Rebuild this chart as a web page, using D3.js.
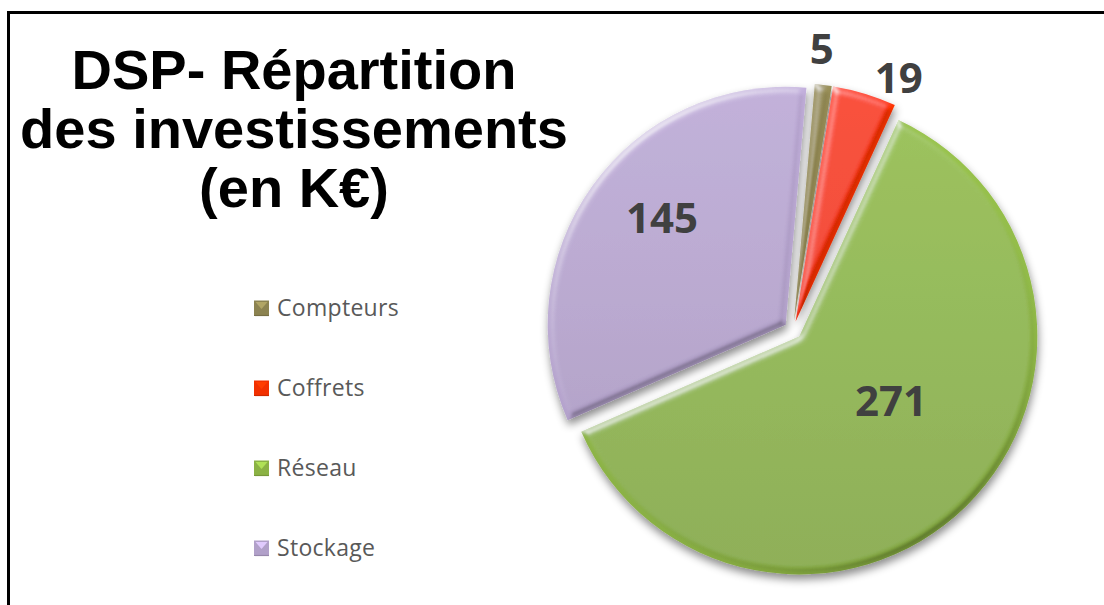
<!DOCTYPE html>
<html>
<head>
<meta charset="utf-8">
<script src="https://cdn.jsdelivr.net/npm/d3@7"></script>
<style>
  body { margin: 0; background: #fff; }
  svg { display: block; }
</style>
</head>
<body>
<div id="chart"></div>
<script>
// data
const categories = ["Compteurs", "Coffrets", "Réseau", "Stockage"];
const values = [5, 19, 271, 145];
const colors = ["#948a54", "#ff3300", "#93bc48", "#bba9d4"];
const titleLines = ["DSP- Répartition", "des investissements", "(en K€)"];

// layout
const W = 1104, H = 605;
const cx = 793, cy = 330, r = 238, explode = 9;
const startDeg = 5;
// label placement: radius factor + angle nudge (deg) relative to slice middle
const labelLayout = {
  "Compteurs": { f: 1.187, shift: -1.2 },
  "Coffrets":  { f: 1.149, shift: 5.9 },
  "Réseau":    { f: 0.508, shift: -9.6 },
  "Stockage":  { f: 0.724, shift: 4.8 }
};

const data = categories.map((c, i) => ({ name: c, value: values[i], color: colors[i] }));

const svg = d3.select("#chart")
  .append("svg")
    .attr("width", W)
    .attr("height", H);

const defs = svg.append("defs");

// bevel filter (light from top-left, shade bottom-right)
const bevel = defs.append("filter")
  .attr("id", "bevel")
  .attr("x", "-5%").attr("y", "-5%").attr("width", "110%").attr("height", "110%");
bevel.append("feGaussianBlur").attr("in", "SourceAlpha").attr("stdDeviation", 3.5).attr("result", "blur");
bevel.append("feSpecularLighting")
    .attr("in", "blur").attr("surfaceScale", 3).attr("specularConstant", 0.9)
    .attr("specularExponent", 22).attr("lighting-color", "#fff").attr("result", "hi")
  .append("feDistantLight").attr("azimuth", 235).attr("elevation", 38);
bevel.append("feComposite").attr("in", "hi").attr("in2", "SourceAlpha").attr("operator", "in").attr("result", "hiIn");
bevel.append("feColorMatrix").attr("in", "hiIn").attr("type", "matrix")
  .attr("values", "1 0 0 0 0  0 1 0 0 0  0 0 1 0 0  0 0 0 0.6 0").attr("result", "hiSoft");
bevel.append("feSpecularLighting")
    .attr("in", "blur").attr("surfaceScale", 3).attr("specularConstant", 1)
    .attr("specularExponent", 22).attr("lighting-color", "#fff").attr("result", "lo")
  .append("feDistantLight").attr("azimuth", 55).attr("elevation", 38);
bevel.append("feComposite").attr("in", "lo").attr("in2", "SourceAlpha").attr("operator", "in").attr("result", "loIn");
bevel.append("feColorMatrix").attr("in", "loIn").attr("type", "matrix")
  .attr("values", "0 0 0 0 0  0 0 0 0 0  0 0 0 0 0  0 0 0 0.5 0").attr("result", "shade");
const bm = bevel.append("feMerge");
bm.append("feMergeNode").attr("in", "SourceGraphic");
bm.append("feMergeNode").attr("in", "hiSoft");
bm.append("feMergeNode").attr("in", "shade");

// soft drop shadow under the pie
const shadow = defs.append("filter")
  .attr("id", "shadow")
  .attr("x", "-10%").attr("y", "-10%").attr("width", "120%").attr("height", "125%");
shadow.append("feGaussianBlur").attr("in", "SourceAlpha").attr("stdDeviation", 4).attr("result", "sb");
shadow.append("feOffset").attr("in", "sb").attr("dx", 1).attr("dy", 5).attr("result", "so");
shadow.append("feColorMatrix").attr("in", "so").attr("type", "matrix")
  .attr("values", "0 0 0 0 0  0 0 0 0 0  0 0 0 0 0  0 0 0 0.45 0").attr("result", "sc");
const sm = shadow.append("feMerge");
sm.append("feMergeNode").attr("in", "sc");
sm.append("feMergeNode").attr("in", "SourceGraphic");

// vertical shading gradients per slice (in pie-centred coords)
data.forEach((d, i) => {
  const g = defs.append("linearGradient")
    .attr("id", "grad" + i)
    .attr("gradientUnits", "userSpaceOnUse")
    .attr("x1", 0).attr("y1", -r).attr("x2", 0).attr("y2", r);
  g.append("stop").attr("offset", "0%").attr("stop-color", d3.color(d.color).brighter(0.12));
  g.append("stop").attr("offset", "100%").attr("stop-color", d3.color(d.color).darker(0.22));
});

// frame (top + left only)
svg.append("path")
  .attr("d", `M8.5,${H} V12.5 H${W}`)
  .attr("fill", "none")
  .attr("stroke", "#000")
  .attr("stroke-width", 3);

// title
svg.append("g")
  .selectAll("text")
  .data(titleLines)
  .join("text")
    .attr("x", 294)
    .attr("y", (d, i) => 89 + i * 59)
    .attr("text-anchor", "middle")
    .style("font-family", "'Liberation Sans', Arial, sans-serif")
    .style("font-weight", "bold")
    .style("font-size", "56px")
    .style("fill", "#000")
    .text(d => d);

// pie
const toRad = deg => deg * Math.PI / 180;
const pie = d3.pie()
  .sort(null)
  .value(d => d.value)
  .startAngle(toRad(startDeg))
  .endAngle(toRad(startDeg + 360));
const arcs = pie(data);
const arc = d3.arc().innerRadius(0).outerRadius(r);
const midA = d => (d.startAngle + d.endAngle) / 2;

const pieG = svg.append("g")
  .attr("transform", `translate(${cx},${cy})`)
  .attr("filter", "url(#shadow)");

pieG.selectAll("path")
  .data(arcs)
  .join("path")
    .attr("transform", d => `translate(${explode * Math.sin(midA(d))},${-explode * Math.cos(midA(d))})`)
    .attr("d", arc)
    .attr("fill", (d, i) => `url(#grad${i})`)
    .attr("filter", "url(#bevel)");

// value labels
svg.append("g")
  .attr("transform", `translate(${cx},${cy})`)
  .selectAll("text")
  .data(arcs)
  .join("text")
    .attr("transform", d => {
      const L = labelLayout[d.data.name];
      const a = midA(d) + toRad(L.shift);
      return `translate(${r * L.f * Math.sin(a)},${-r * L.f * Math.cos(a)})`;
    })
    .attr("dy", "0.36em")
    .attr("text-anchor", "middle")
    .style("font-family", "'Open Sans', sans-serif")
    .style("font-weight", "bold")
    .style("font-size", "42px")
    .style("fill", "#404040")
    .text(d => d.data.value);

// legend
const legend = svg.append("g")
  .selectAll("g")
  .data(data)
  .join("g")
    .attr("transform", (d, i) => `translate(254,${308 + i * 80})`);

legend.append("rect")
  .attr("x", 0).attr("y", -7.5)
  .attr("width", 15).attr("height", 15)
  .attr("fill", d => d3.color(d.color).darker(0.15));
legend.append("path")
  .attr("d", "M1.5,-6 H13.5 L7.5,1 Z")
  .attr("fill", d => d3.color(d.color).brighter(0.5));
legend.append("path")
  .attr("d", "M0,7.5 H15")
  .attr("stroke", d => d3.color(d.color).darker(0.6))
  .attr("stroke-width", 1.2);

legend.append("text")
  .attr("x", 23)
  .attr("dy", "0.36em")
  .style("font-family", "'Open Sans', sans-serif")
  .style("font-size", "23px")
  .style("letter-spacing", "0.3px")
  .style("fill", "#595959")
  .text(d => d.name);
</script>
</body>
</html>
